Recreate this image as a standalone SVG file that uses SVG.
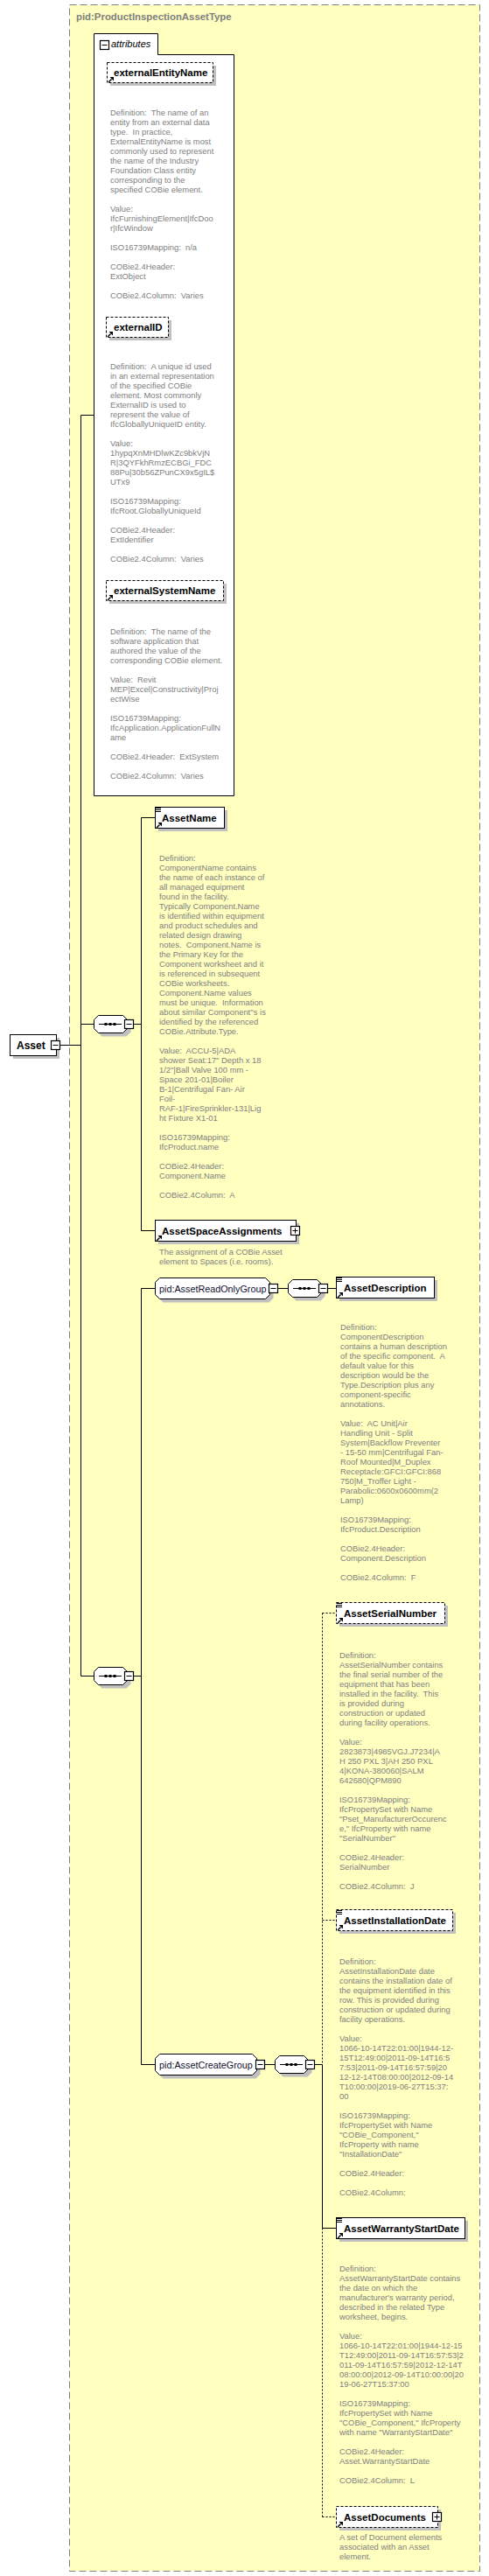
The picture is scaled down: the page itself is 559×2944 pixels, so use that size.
<svg xmlns="http://www.w3.org/2000/svg" xmlns:xlink="http://www.w3.org/1999/xlink" width="559" height="2944" viewBox="0 0 559 2944">
<style>
.d{font-family:"Liberation Sans",Arial,sans-serif;font-size:9.4px;fill:#808080}
.b{font-family:"Liberation Sans",Arial,sans-serif;font-size:11.5px;font-weight:bold;fill:#000}
.g{font-family:"Liberation Sans",Arial,sans-serif;font-size:10.8px;fill:#101030}
.t{font-family:"Liberation Sans",Arial,sans-serif;font-size:11.4px;font-weight:bold;fill:#808080}
.i{font-family:"Liberation Sans",Arial,sans-serif;font-size:11px;font-style:italic;fill:#000}
.ln{stroke:#000;stroke-width:1;fill:none}
.dl{stroke:#000;stroke-width:1;fill:none;stroke-dasharray:2,2}
.box{fill:#fff;stroke:#000;stroke-width:1}
.dbox{fill:#fff;stroke:#000;stroke-width:1;stroke-dasharray:3,2}
.sh{fill:#c0c0c0}
.btn{fill:#fff;stroke:#000;stroke-width:1.2}
</style>
<defs>
<g id="arr"><path d="M1,7 L4.5,3.5" stroke="#000" stroke-width="1.4" fill="none"/><polygon points="2.5,1 7,1 7,5.5" fill="#000"/></g>
<path id="eq" d="M1,1.5H7M1,3.5H7M1,5.5H7" stroke="#000" stroke-width="1" fill="none"/>
<g id="minus"><rect class="btn" x="0.5" y="0.5" width="10" height="10"/><path d="M2.5,5.5H8.5" stroke="#000" stroke-width="1"/></g>
<g id="plus"><rect class="btn" x="0.5" y="0.5" width="10" height="10"/><path d="M2.5,5.5H8.5M5.5,2.5V8.5" stroke="#000" stroke-width="1"/></g>
<g id="seq">
<path class="sh" d="M9.5,4.5 H37.5 L42.5,9.5 V19.5 L37.5,24.5 H9.5 L4.5,19.5 V9.5 Z"/>
<path class="box" d="M5.5,0.5 H33.5 L38.5,5.5 V15.5 L33.5,20.5 H5.5 L0.5,15.5 V5.5 Z"/>
<path d="M6,10.5 H32" stroke="#000" stroke-width="1"/>
<rect x="12.5" y="9" width="3" height="3" fill="#000"/><rect x="17.5" y="9" width="3" height="3" fill="#000"/><rect x="22.5" y="9" width="3" height="3" fill="#000"/>
<use xlink:href="#minus" href="#minus" x="35" y="5"/>
</g>
</defs>

<g id="container">
<rect x="79.5" y="5.5" width="469" height="2933" fill="#ffffc0" stroke="#808080" stroke-width="1" stroke-dasharray="8,4"/>
<text class="t" x="87" y="23">pid:ProductInspectionAssetType</text>
</g>

<g id="connectors">
<path class="ln" d="M68.5,1194.5 H92.5 M92.5,474.5 V1915.5 M92.5,474.5 H107.5 M92.5,1170.5 H107.5 M92.5,1915.5 H107.5"/>
<path class="ln" d="M152.5,1170.5 H161.5 M161.5,934.5 V1406.5 M161.5,934.5 H177.5 M161.5,1406.5 H177.5"/>
<path class="ln" d="M152.5,1915.5 H161.5 M161.5,1472.5 V2359.5 M161.5,1472.5 H177.5 M161.5,2359.5 H177.5"/>
<path class="ln" d="M318,1472.5 H329.5 M374.5,1472.5 H384.5"/>
<path class="ln" d="M303,2359.5 H314.5 M359.5,2359.5 H368.5 M368.5,2359.5 V2546.5 M368.5,2546.5 H384.5"/>
<path class="dl" d="M368.5,1843.5 V2359.5 M368.5,2546.5 V2876.5 M368.5,1843.5 H384.5 M368.5,2194.5 H384.5 M368.5,2876.5 H384.5"/>
</g>

<g id="asset">
<rect class="sh" x="15" y="1186" width="53" height="24"/>
<rect class="box" x="11.5" y="1182.5" width="53" height="24"/>
<text class="b" style="font-size:12px" x="19" y="1198.5">Asset</text>
<use xlink:href="#minus" href="#minus" x="58" y="1189"/>
</g>

<g id="attributes">
<path class="box" d="M107.5,38.5 H180.5 V62.5 H267.5 V909.5 H107.5 Z"/>
<use xlink:href="#minus" href="#minus" x="114" y="46"/>
<text class="i" x="127" y="54">attributes</text>
</g>

<g id="externalEntityName">
<rect class="sh" x="126" y="75" width="121" height="23"/>
<rect class="dbox" x="122.5" y="71.5" width="121" height="23"/>
<use xlink:href="#arr" href="#arr" x="123" y="87"/>
<text class="b" x="130" y="87">externalEntityName</text>
<text class="d">
<tspan x="126" y="132">Definition:&#160; The name of an</tspan>
<tspan x="126" y="143">entity from an external data</tspan>
<tspan x="126" y="154">type.&#160; In practice,</tspan>
<tspan x="126" y="165">ExternalEntityName is most</tspan>
<tspan x="126" y="176">commonly used to represent</tspan>
<tspan x="126" y="187">the name of the Industry</tspan>
<tspan x="126" y="198">Foundation Class entity</tspan>
<tspan x="126" y="209">corresponding to the</tspan>
<tspan x="126" y="220">specified COBie element.</tspan>
<tspan x="126" y="242">Value:</tspan>
<tspan x="126" y="253">IfcFurnishingElement|IfcDoo</tspan>
<tspan x="126" y="264">r|IfcWindow</tspan>
<tspan x="126" y="286">ISO16739Mapping:&#160; n/a</tspan>
<tspan x="126" y="308">COBie2.4Header:</tspan>
<tspan x="126" y="319">ExtObject</tspan>
<tspan x="126" y="341">COBie2.4Column:&#160; Varies</tspan>
</text>
</g>

<g id="externalID">
<rect class="sh" x="125" y="366" width="71" height="23"/>
<rect class="dbox" x="121.5" y="362.5" width="71" height="23"/>
<use xlink:href="#arr" href="#arr" x="122" y="378"/>
<text class="b" x="130" y="378">externalID</text>
<text class="d">
<tspan x="126" y="422">Definition:&#160; A unique id used</tspan>
<tspan x="126" y="433">in an external representation</tspan>
<tspan x="126" y="444">of the specified COBie</tspan>
<tspan x="126" y="455">element. Most commonly</tspan>
<tspan x="126" y="466">ExternalID is used to</tspan>
<tspan x="126" y="477">represent the value of</tspan>
<tspan x="126" y="488">IfcGloballyUniqueID entity.</tspan>
<tspan x="126" y="510">Value:</tspan>
<tspan x="126" y="521">1hypqXnMHDlwKZc9bkVjN</tspan>
<tspan x="126" y="532">R|3QYFkhRmzECBGi_FDC</tspan>
<tspan x="126" y="543">88Pu|30b56ZPunCX9x5gIL$</tspan>
<tspan x="126" y="554">UTx9</tspan>
<tspan x="126" y="576">ISO16739Mapping:</tspan>
<tspan x="126" y="587">IfcRoot.GloballyUniqueId</tspan>
<tspan x="126" y="609">COBie2.4Header:</tspan>
<tspan x="126" y="620">ExtIdentifier</tspan>
<tspan x="126" y="642">COBie2.4Column:&#160; Varies</tspan>
</text>
</g>

<g id="externalSystemName">
<rect class="sh" x="125" y="667" width="134" height="23"/>
<rect class="dbox" x="121.5" y="663.5" width="134" height="23"/>
<use xlink:href="#arr" href="#arr" x="122" y="679"/>
<text class="b" x="130" y="679">externalSystemName</text>
<text class="d">
<tspan x="126" y="725">Definition:&#160; The name of the</tspan>
<tspan x="126" y="736">software application that</tspan>
<tspan x="126" y="747">authored the value of the</tspan>
<tspan x="126" y="758">corresponding COBie element.</tspan>
<tspan x="126" y="780">Value:&#160; Revit</tspan>
<tspan x="126" y="791">MEP|Excel|Constructivity|Proj</tspan>
<tspan x="126" y="802">ectWise</tspan>
<tspan x="126" y="824">ISO16739Mapping:</tspan>
<tspan x="126" y="835">IfcApplication.ApplicationFullN</tspan>
<tspan x="126" y="846">ame</tspan>
<tspan x="126" y="868">COBie2.4Header:&#160; ExtSystem</tspan>
<tspan x="126" y="890">COBie2.4Column:&#160; Varies</tspan>
</text>
</g>

<g id="seq1"><use xlink:href="#seq" href="#seq" x="107" y="1160"/></g>
<g id="seq2"><use xlink:href="#seq" href="#seq" x="107" y="1905"/></g>

<g id="AssetName">
<rect class="sh" x="181" y="926" width="79" height="24"/>
<rect class="box" x="177.5" y="922.5" width="79" height="24"/>
<use xlink:href="#eq" href="#eq" x="177" y="922"/>
<use xlink:href="#arr" href="#arr" x="178" y="939"/>
<text class="b" x="185" y="938.5">AssetName</text>
<text class="d">
<tspan x="182" y="984">Definition:</tspan>
<tspan x="182" y="995">ComponentName contains</tspan>
<tspan x="182" y="1006">the name of each instance of</tspan>
<tspan x="182" y="1017">all managed equipment</tspan>
<tspan x="182" y="1028">found in the facility.</tspan>
<tspan x="182" y="1039">Typically Component.Name</tspan>
<tspan x="182" y="1050">is identified within equipment</tspan>
<tspan x="182" y="1061">and product schedules and</tspan>
<tspan x="182" y="1072">related design drawing</tspan>
<tspan x="182" y="1083">notes.&#160; Component.Name is</tspan>
<tspan x="182" y="1094">the Primary Key for the</tspan>
<tspan x="182" y="1105">Component worksheet and it</tspan>
<tspan x="182" y="1116">is referenced in subsequent</tspan>
<tspan x="182" y="1127">COBie worksheets.</tspan>
<tspan x="182" y="1138">Component.Name values</tspan>
<tspan x="182" y="1149">must be unique.&#160; Information</tspan>
<tspan x="182" y="1160">about similar Component''s is</tspan>
<tspan x="182" y="1171">identified by the referenced</tspan>
<tspan x="182" y="1182">COBie.Attribute.Type.</tspan>
<tspan x="182" y="1204">Value:&#160; ACCU-5|ADA</tspan>
<tspan x="182" y="1215">shower Seat:17" Depth x 18</tspan>
<tspan x="182" y="1226">1/2"|Ball Valve 100 mm -</tspan>
<tspan x="182" y="1237">Space 201-01|Boiler</tspan>
<tspan x="182" y="1248">B-1|Centrifugal Fan- Air</tspan>
<tspan x="182" y="1259">Foil-</tspan>
<tspan x="182" y="1270">RAF-1|FireSprinkler-131|Lig</tspan>
<tspan x="182" y="1281">ht Fixture X1-01</tspan>
<tspan x="182" y="1303">ISO16739Mapping:</tspan>
<tspan x="182" y="1314">IfcProduct.name</tspan>
<tspan x="182" y="1336">COBie2.4Header:</tspan>
<tspan x="182" y="1347">Component.Name</tspan>
<tspan x="182" y="1369">COBie2.4Column:&#160; A</tspan>
</text>
</g>

<g id="AssetSpaceAssignments">
<rect class="sh" x="181" y="1398" width="161" height="24"/>
<rect class="box" x="177.5" y="1394.5" width="161" height="24"/>
<use xlink:href="#arr" href="#arr" x="178" y="1411"/>
<text class="b" x="185" y="1410.5">AssetSpaceAssignments</text>
<use xlink:href="#plus" href="#plus" x="332" y="1401"/>
<text class="d">
<tspan x="182" y="1434">The assignment of a COBie Asset</tspan>
<tspan x="182" y="1445">element to Spaces (i.e. rooms).</tspan>
</text>
</g>

<g id="AssetReadOnlyGroup">
<path class="sh" d="M186.5,1464.5 H307.5 L312.5,1469.5 V1483.5 L307.5,1488.5 H186.5 L181.5,1483.5 V1469.5 Z"/>
<path class="box" d="M182.5,1460.5 H303.5 L308.5,1465.5 V1479.5 L303.5,1484.5 H182.5 L177.5,1479.5 V1465.5 Z"/>
<text class="g" x="182" y="1476.5">pid:AssetReadOnlyGroup</text>
<use xlink:href="#minus" href="#minus" x="307" y="1467"/>
</g>
<g id="seq3"><use xlink:href="#seq" href="#seq" x="329" y="1462"/></g>

<g id="AssetDescription">
<rect class="sh" x="388" y="1463" width="112" height="24"/>
<rect class="box" x="384.5" y="1459.5" width="112" height="24"/>
<use xlink:href="#eq" href="#eq" x="384" y="1459"/>
<use xlink:href="#arr" href="#arr" x="385" y="1476"/>
<text class="b" x="393" y="1475.5">AssetDescription</text>
<text class="d">
<tspan x="389" y="1520">Definition:</tspan>
<tspan x="389" y="1531">ComponentDescription</tspan>
<tspan x="389" y="1542">contains a human description</tspan>
<tspan x="389" y="1553">of the specific component.&#160; A</tspan>
<tspan x="389" y="1564">default value for this</tspan>
<tspan x="389" y="1575">description would be the</tspan>
<tspan x="389" y="1586">Type.Description plus any</tspan>
<tspan x="389" y="1597">component-specific</tspan>
<tspan x="389" y="1608">annotations.</tspan>
<tspan x="389" y="1630">Value:&#160; AC Unit|Air</tspan>
<tspan x="389" y="1641">Handling Unit - Split</tspan>
<tspan x="389" y="1652">System|Backflow Preventer</tspan>
<tspan x="389" y="1663">- 15-50 mm|Centrifugal Fan-</tspan>
<tspan x="389" y="1674">Roof Mounted|M_Duplex</tspan>
<tspan x="389" y="1685">Receptacle:GFCI:GFCI:868</tspan>
<tspan x="389" y="1696">750|M_Troffer Light -</tspan>
<tspan x="389" y="1707">Parabolic:0600x0600mm(2</tspan>
<tspan x="389" y="1718">Lamp)</tspan>
<tspan x="389" y="1740">ISO16739Mapping:</tspan>
<tspan x="389" y="1751">IfcProduct.Description</tspan>
<tspan x="389" y="1773">COBie2.4Header:</tspan>
<tspan x="389" y="1784">Component.Description</tspan>
<tspan x="389" y="1806">COBie2.4Column:&#160; F</tspan>
</text>
</g>

<g id="AssetCreateGroup">
<path class="sh" d="M186.5,2351.5 H292.5 L297.5,2356.5 V2370.5 L292.5,2375.5 H186.5 L181.5,2370.5 V2356.5 Z"/>
<path class="box" d="M182.5,2347.5 H288.5 L293.5,2352.5 V2366.5 L288.5,2371.5 H182.5 L177.5,2366.5 V2352.5 Z"/>
<text class="g" x="182" y="2363.5">pid:AssetCreateGroup</text>
<use xlink:href="#minus" href="#minus" x="292" y="2354"/>
</g>
<g id="seq5"><use xlink:href="#seq" href="#seq" x="314" y="2349"/></g>

<g id="AssetSerialNumber">
<rect class="sh" x="388" y="1835" width="124" height="24"/>
<rect class="dbox" x="384.5" y="1831.5" width="124" height="24"/>
<use xlink:href="#eq" href="#eq" x="384" y="1831"/>
<use xlink:href="#arr" href="#arr" x="385" y="1848"/>
<text class="b" x="393" y="1847.5">AssetSerialNumber</text>
<text class="d">
<tspan x="388" y="1895">Definition:</tspan>
<tspan x="388" y="1906">AssetSerialNumber contains</tspan>
<tspan x="388" y="1917">the final serial number of the</tspan>
<tspan x="388" y="1928">equipment that has been</tspan>
<tspan x="388" y="1939">installed in the facility.&#160; This</tspan>
<tspan x="388" y="1950">is provided during</tspan>
<tspan x="388" y="1961">construction or updated</tspan>
<tspan x="388" y="1972">during facility operations.</tspan>
<tspan x="388" y="1994">Value:</tspan>
<tspan x="388" y="2005">2823873|4985VGJ.J7234|A</tspan>
<tspan x="388" y="2016">H 250 PXL 3|AH 250 PXL</tspan>
<tspan x="388" y="2027">4|KONA-380060|SALM</tspan>
<tspan x="388" y="2038">642680|QPM890</tspan>
<tspan x="388" y="2060">ISO16739Mapping:</tspan>
<tspan x="388" y="2071">IfcPropertySet with Name</tspan>
<tspan x="388" y="2082">"Pset_ManufacturerOccurenc</tspan>
<tspan x="388" y="2093">e," IfcProperty with name</tspan>
<tspan x="388" y="2104">"SerialNumber"</tspan>
<tspan x="388" y="2126">COBie2.4Header:</tspan>
<tspan x="388" y="2137">SerialNumber</tspan>
<tspan x="388" y="2159">COBie2.4Column:&#160; J</tspan>
</text>
</g>

<g id="AssetInstallationDate">
<rect class="sh" x="388" y="2186" width="133" height="24"/>
<rect class="dbox" x="384.5" y="2182.5" width="133" height="24"/>
<use xlink:href="#eq" href="#eq" x="384" y="2182"/>
<use xlink:href="#arr" href="#arr" x="385" y="2199"/>
<text class="b" x="393" y="2198.5">AssetInstallationDate</text>
<text class="d">
<tspan x="388" y="2245">Definition:</tspan>
<tspan x="388" y="2256">AssetInstallationDate date</tspan>
<tspan x="388" y="2267">contains the installation date of</tspan>
<tspan x="388" y="2278">the equipment identified in this</tspan>
<tspan x="388" y="2289">row. This is provided during</tspan>
<tspan x="388" y="2300">construction or updated during</tspan>
<tspan x="388" y="2311">facility operations.</tspan>
<tspan x="388" y="2333">Value:</tspan>
<tspan x="388" y="2344">1066-10-14T22:01:00|1944-12-</tspan>
<tspan x="388" y="2355">15T12:49:00|2011-09-14T16:5</tspan>
<tspan x="388" y="2366">7:53|2011-09-14T16:57:59|20</tspan>
<tspan x="388" y="2377">12-12-14T08:00:00|2012-09-14</tspan>
<tspan x="388" y="2388">T10:00:00|2019-06-27T15:37:</tspan>
<tspan x="388" y="2399">00</tspan>
<tspan x="388" y="2421">ISO16739Mapping:</tspan>
<tspan x="388" y="2432">IfcPropertySet with Name</tspan>
<tspan x="388" y="2443">"COBie_Component,"</tspan>
<tspan x="388" y="2454">IfcProperty with name</tspan>
<tspan x="388" y="2465">"InstallationDate"</tspan>
<tspan x="388" y="2487">COBie2.4Header:</tspan>
<tspan x="388" y="2509">COBie2.4Column:</tspan>
</text>
</g>

<g id="AssetWarrantyStartDate">
<rect class="sh" x="388" y="2538" width="147" height="24"/>
<rect class="box" x="384.5" y="2534.5" width="147" height="24"/>
<use xlink:href="#eq" href="#eq" x="384" y="2534"/>
<use xlink:href="#arr" href="#arr" x="385" y="2551"/>
<text class="b" x="393" y="2550.5">AssetWarrantyStartDate</text>
<text class="d">
<tspan x="388" y="2596">Definition:</tspan>
<tspan x="388" y="2607">AssetWarrantyStartDate contains</tspan>
<tspan x="388" y="2618">the date on which the</tspan>
<tspan x="388" y="2629">manufacturer's warranty period,</tspan>
<tspan x="388" y="2640">described in the related Type</tspan>
<tspan x="388" y="2651">worksheet, begins.</tspan>
<tspan x="388" y="2673">Value:</tspan>
<tspan x="388" y="2684">1066-10-14T22:01:00|1944-12-15</tspan>
<tspan x="388" y="2695">T12:49:00|2011-09-14T16:57:53|2</tspan>
<tspan x="388" y="2706">011-09-14T16:57:59|2012-12-14T</tspan>
<tspan x="388" y="2717">08:00:00|2012-09-14T10:00:00|20</tspan>
<tspan x="388" y="2728">19-06-27T15:37:00</tspan>
<tspan x="388" y="2750">ISO16739Mapping:</tspan>
<tspan x="388" y="2761">IfcPropertySet with Name</tspan>
<tspan x="388" y="2772">"COBie_Component," IfcProperty</tspan>
<tspan x="388" y="2783">with name "WarrantyStartDate"</tspan>
<tspan x="388" y="2805">COBie2.4Header:</tspan>
<tspan x="388" y="2816">Asset.WarrantyStartDate</tspan>
<tspan x="388" y="2838">COBie2.4Column:&#160; L</tspan>
</text>
</g>

<g id="AssetDocuments">
<rect class="sh" x="388" y="2868" width="116" height="24"/>
<rect class="dbox" x="384.5" y="2864.5" width="116" height="24"/>
<use xlink:href="#arr" href="#arr" x="385" y="2881"/>
<text class="b" x="393" y="2880.5">AssetDocuments</text>
<use xlink:href="#plus" href="#plus" x="494" y="2871"/>
<text class="d">
<tspan x="388" y="2903">A set of Document elements</tspan>
<tspan x="388" y="2914">associated with an Asset</tspan>
<tspan x="388" y="2925">element.</tspan>
</text>
</g>
</svg>
